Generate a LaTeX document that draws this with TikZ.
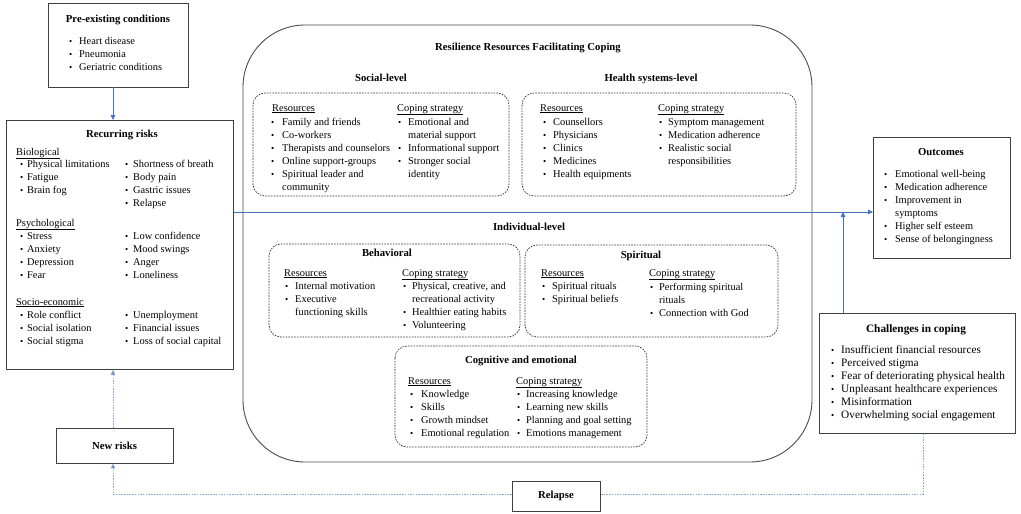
\documentclass[tikz,border=0pt]{standalone}
\usepackage{fontspec}
\setmainfont{Liberation Serif}
\usetikzlibrary{arrows.meta}
\definecolor{arrblue}{HTML}{4472C4}
\definecolor{dotblue}{HTML}{8EA9DB}
\tikzset{
  txt/.style={anchor=base west,inner sep=0pt,font=\fontsize{10.4}{12}\selectfont},
  ttl/.style={anchor=base,inner sep=0pt,font=\fontsize{10.7}{12}\selectfont\bfseries},
  bul/.style={anchor=base west,inner sep=0pt,font=\fontsize{9}{12}\selectfont},
  big/.style={font=\fontsize{11.3}{13}\selectfont},
  solidbox/.style={draw=black!75,line width=0.8pt},
  dashbox/.style={draw=black!80,line width=0.7pt,dash pattern=on 1.6pt off 1.2pt,rounded corners=12pt},
  bigbox/.style={draw=black!70,line width=0.9pt,rounded corners=62pt},
  bluearrow/.style={draw=arrblue,line width=0.8pt,-{Triangle[length=5pt,width=4.5pt]}},
  dotline/.style={draw=dotblue,line width=0.9pt,dash pattern=on 1.5pt off 1.2pt},
  dotarrow/.style={dotline,-{Triangle[length=5pt,width=4.5pt,fill=arrblue]}},
}
\newcommand\bi[5]{\node[bul] (#1b) at (#2,#4) {\textbullet}; \node[txt] (#1) at (#3,#4) {#5};}
\newcommand\bj[5]{\node[bul] (#1b) at (#2,#4) {\textbullet}; \node[txt,big] (#1) at (#3,#4) {#5};}
\newcommand\ct[4]{\node[txt] (#1) at (#2,#3) {#4};}
\begin{document}
\begin{tikzpicture}[x=1pt,y=-1pt]
\useasboundingbox[fill=white] (0,0) rectangle (1021,514);

% ---- Pre-existing conditions
\draw[solidbox] (48,3) rectangle (188,87);
\coordinate (pre-s) at (113,87);
\node[ttl] (preT) at (118,22) {Pre-existing conditions};
\bi{p1}{69}{79}{44}{Heart disease}
\bi{p2}{69}{79}{57}{Pneumonia}
\bi{p3}{69}{79}{70}{Geriatric conditions}

% ---- Recurring risks
\node[solidbox,minimum width=227pt,minimum height=249pt,anchor=north west,inner sep=0pt] (rec) at (6,120) {};
\node[ttl] (recT) at (122,137) {Recurring risks};
\ct{bio}{16}{155}{\underline{Biological}}
\bi{b1}{20}{27}{167}{Physical limitations}
\bi{b2}{20}{27}{180}{Fatigue}
\bi{b3}{20}{27}{193}{Brain fog}
\bi{b4}{125}{133}{167}{Shortness of breath}
\bi{b5}{125}{133}{180}{Body pain}
\bi{b6}{125}{133}{193}{Gastric issues}
\bi{b7}{125}{133}{206}{Relapse}
\ct{psy}{16}{226}{\underline{Psychological}}
\bi{s1}{20}{27}{239}{Stress}
\bi{s2}{20}{27}{252}{Anxiety}
\bi{s3}{20}{27}{265}{Depression}
\bi{s4}{20}{27}{278}{Fear}
\bi{s5}{125}{133}{239}{Low confidence}
\bi{s6}{125}{133}{252}{Mood swings}
\bi{s7}{125}{133}{265}{Anger}
\bi{s8}{125}{133}{278}{Loneliness}
\ct{soc}{16}{305}{\underline{Socio-economic}}
\bi{e1}{20}{27}{318}{Role conflict}
\bi{e2}{20}{27}{331}{Social isolation}
\bi{e3}{20}{27}{344}{Social stigma}
\bi{e4}{125}{133}{318}{Unemployment}
\bi{e5}{125}{133}{331}{Financial issues}
\bi{e6}{125}{133}{344}{Loss of social capital}

% ---- New risks / Relapse
\node[solidbox,minimum width=117pt,minimum height=35pt,inner sep=0pt,font=\fontsize{10.7}{12}\selectfont\bfseries] (new) at (114.5,445.5) {New risks};
\node[solidbox,minimum width=88pt,minimum height=30pt,inner sep=0pt,font=\fontsize{10.7}{12}\selectfont\bfseries] (rel) at (556,496) {Relapse};

% ---- Big box
\draw[bigbox] (243,25) rectangle (812,462);
\node[ttl] (bigT) at (528,50) {Resilience Resources Facilitating Coping};
\node[ttl] (socT) at (381,81) {Social-level};
\node[ttl] (hsT) at (651,81) {Health systems-level};

% Social-level
\draw[dashbox] (253,93) rectangle (509,196);
\ct{sr}{272}{111}{\underline{Resources}}
\bi{sr1}{271}{282}{125}{Family and friends}
\bi{sr2}{271}{282}{138}{Co-workers}
\bi{sr3}{271}{282}{151}{Therapists and counselors}
\bi{sr4}{271}{282}{164}{Online support-groups}
\bi{sr5}{271}{282}{177}{Spiritual leader and}
\ct{sr6}{282}{190}{community}
\ct{sc}{397}{111}{\underline{Coping strategy}}
\bi{sc1}{398}{408}{125}{Emotional and}
\ct{sc2}{408}{138}{material support}
\bi{sc3}{398}{408}{151}{Informational support}
\bi{sc4}{398}{408}{164}{Stronger social}
\ct{sc5}{408}{177}{identity}

% Health systems-level
\draw[dashbox] (522,93) rectangle (796,196);
\ct{hr}{540}{111}{\underline{Resources}}
\bi{hr1}{543}{553}{125}{Counsellors}
\bi{hr2}{543}{553}{138}{Physicians}
\bi{hr3}{543}{553}{151}{Clinics}
\bi{hr4}{543}{553}{164}{Medicines}
\bi{hr5}{543}{553}{177}{Health equipments}
\ct{hc}{658}{111}{\underline{Coping strategy}}
\bi{hc1}{659}{668}{125}{Symptom management}
\bi{hc2}{659}{668}{138}{Medication adherence}
\bi{hc3}{659}{668}{151}{Realistic social}
\ct{hc4}{668}{164}{responsibilities}

\node[ttl] (indT) at (529,230) {Individual-level};

% Behavioral
\draw[dashbox] (269,244) rectangle (520,337);
\node[ttl] (behT) at (387,256) {Behavioral};
\ct{br}{284}{276}{\underline{Resources}}
\bi{br1}{285}{295}{289}{Internal motivation}
\bi{br2}{285}{295}{302}{Executive}
\ct{br3}{295}{315}{functioning skills}
\ct{bc}{402}{276}{\underline{Coping strategy}}
\bi{bc1}{403}{412}{289}{Physical, creative, and}
\ct{bc2}{412}{302}{recreational activity}
\bi{bc3}{403}{412}{315}{Healthier eating habits}
\bi{bc4}{403}{412}{328}{Volunteering}

% Spiritual
\draw[dashbox] (525,245) rectangle (778,337);
\node[ttl] (spT) at (641,258) {Spiritual};
\ct{pr}{541}{276}{\underline{Resources}}
\bi{pr1}{542}{552}{289}{Spiritual rituals}
\bi{pr2}{542}{552}{302}{Spiritual beliefs}
\ct{pc}{649}{276}{\underline{Coping strategy}}
\bi{pc1}{650}{659}{290}{Performing spiritual}
\ct{pc2}{659}{303}{rituals}
\bi{pc3}{650}{659}{316}{Connection with God}

% Cognitive and emotional
\draw[dashbox] (395,346) rectangle (647,447);
\node[ttl] (coT) at (521,363) {Cognitive and emotional};
\ct{cr}{408}{384}{\underline{Resources}}
\bi{cr1}{410}{421}{397}{Knowledge}
\bi{cr2}{410}{421}{410}{Skills}
\bi{cr3}{410}{421}{423}{Growth mindset}
\bi{cr4}{410}{421}{436}{Emotional regulation}
\ct{cc}{516}{384}{\underline{Coping strategy}}
\bi{cc1}{517}{526}{397}{Increasing knowledge}
\bi{cc2}{517}{526}{410}{Learning new skills}
\bi{cc3}{517}{526}{423}{Planning and goal setting}
\bi{cc4}{517}{526}{436}{Emotions management}

% ---- Outcomes
\node[solidbox,minimum width=137pt,minimum height=121pt,anchor=north west,inner sep=0pt] (out) at (873,137) {};
\node[ttl] (outT) at (941,155) {Outcomes};
\bi{o1}{884}{895}{177}{Emotional well-being}
\bi{o2}{884}{895}{190}{Medication adherence}
\bi{o3}{884}{895}{203}{Improvement in}
\ct{o4}{895}{216}{symptoms}
\bi{o5}{884}{895}{229}{Higher self esteem}
\bi{o6}{884}{895}{242}{Sense of belongingness}

% ---- Challenges
\node[solidbox,minimum width=196pt,minimum height=120pt,anchor=north west,inner sep=0pt] (cha) at (819,313) {};
\node[ttl,font=\fontsize{11.3}{13}\selectfont\bfseries] (chaT) at (916,332) {Challenges in coping};
\bj{h1}{831}{841}{353}{Insufficient financial resources}
\bj{h2}{831}{841}{366}{Perceived stigma}
\bj{h3}{831}{841}{379}{Fear of deteriorating physical health}
\bj{h4}{831}{841}{392}{Unpleasant healthcare experiences}
\bj{h5}{831}{841}{405}{Misinformation}
\bj{h6}{831}{841}{418}{Overwhelming social engagement}

% ---- Connectors
\coordinate (mainy) at (0,212);
\coordinate (chaup) at (843,212);
\coordinate (boty) at (0,494);
\draw[bluearrow] (pre-s) -- (rec.north -| pre-s);
\draw[bluearrow] (rec.east |- mainy) -- (out.west |- mainy);
\draw[bluearrow] (cha.north -| chaup) -- (chaup);
\draw[dotline] (cha.south -| 923,0) -- (923,494) -- (rel.east |- boty);
\draw[dotarrow] (rel.west |- boty) -- (113,494) -- (new.south -| 113,0);
\draw[dotarrow] (new.north -| 113,0) -- (rec.south -| 113,0);
\end{tikzpicture}
\end{document}
